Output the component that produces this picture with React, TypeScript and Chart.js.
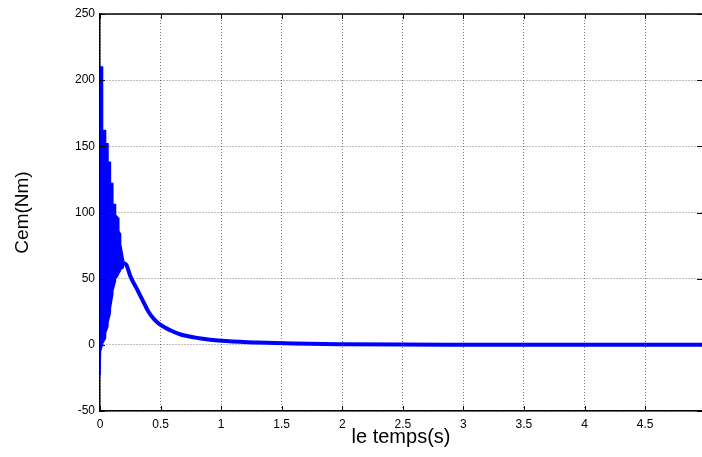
import React, { useEffect, useRef } from "react";
import { Chart, registerables } from "chart.js";

Chart.register(...registerables);

// Oscillating start-up region: envelope
const envT = [0, 0.004, 0.02, 0.021, 0.045, 0.046, 0.065, 0.066, 0.085, 0.086, 0.105, 0.106, 0.127, 0.128, 0.15, 0.155, 0.168, 0.17, 0.19, 0.2];
const envUpper = [210, 210, 210, 162, 162, 152, 152, 138, 138, 122, 122, 106, 106, 98, 96, 86, 84, 76, 66, 62];
const envLower = [-23, -5, 0, 1, 5, 9, 14, 17, 24, 28, 38, 41, 48, 50, 53, 54, 56, 57, 58, 62];

// Smooth decaying part
const mainT = [0.2, 0.22, 0.25, 0.3, 0.35, 0.4, 0.45, 0.5, 0.58, 0.66, 0.82, 1.0, 1.3, 1.6, 2.0, 2.5, 3.0, 4.0, 4.97];
const mainV = [62, 60, 52, 43, 34, 25, 19, 15, 11, 8, 5, 3, 1.8, 1.0, 0.5, 0.2, 0.1, 0, 0];

const xTicks = [0, 0.5, 1, 1.5, 2, 2.5, 3, 3.5, 4, 4.5];
const yTicks = [-50, 0, 50, 100, 150, 200, 250];

const xTitle = "le temps(s)";
const yTitle = "Cem(Nm)";

const BLUE = "#0000ff";
const FONT = "'Liberation Sans', Arial, sans-serif";

const framePlugin = {
  id: "frame",
  afterDraw(chart: any) {
    const { ctx, chartArea: a, scales } = chart;
    const xs = scales.x;
    const ys = scales.y;
    ctx.save();
    ctx.strokeStyle = "#000";
    ctx.lineWidth = 1.5;
    ctx.beginPath();
    ctx.moveTo(a.left, a.top);
    ctx.lineTo(a.right, a.top);
    ctx.stroke();
    ctx.lineWidth = 1;
    const tl = 5;
    ctx.beginPath();
    for (const v of xTicks) {
      const px = Math.round(xs.getPixelForValue(v)) + 0.5;
      ctx.moveTo(px, a.bottom);
      ctx.lineTo(px, a.bottom - tl);
      ctx.moveTo(px, a.top);
      ctx.lineTo(px, a.top + tl);
    }
    for (const v of yTicks) {
      const py = Math.round(ys.getPixelForValue(v)) + 0.5;
      ctx.moveTo(a.left, py);
      ctx.lineTo(a.left + tl, py);
      ctx.moveTo(a.right, py);
      ctx.lineTo(a.right - tl, py);
    }
    ctx.stroke();
    ctx.fillStyle = "#000";
    ctx.textAlign = "center";
    ctx.textBaseline = "middle";
    ctx.font = `20px ${FONT}`;
    ctx.fillText(xTitle, (a.left + a.right) / 2, 437);
    ctx.translate(23, (a.top + a.bottom) / 2);
    ctx.rotate(-Math.PI / 2);
    ctx.font = `19px ${FONT}`;
    ctx.fillText(yTitle, 0, 0);
    ctx.restore();
  },
};

export default function App() {
  const ref = useRef<HTMLCanvasElement | null>(null);
  useEffect(() => {
    if (!ref.current) return;
    const band = [
      ...envT.map((t, i) => ({ x: t, y: envUpper[i] })),
      ...envT.map((t, i) => ({ x: t, y: envLower[i] })).reverse(),
    ];
    const main = mainT.map((t, i) => ({ x: t, y: mainV[i] }));
    const chart = new Chart(ref.current, {
      type: "line",
      data: {
        datasets: [
          { data: band, borderColor: BLUE, borderWidth: 1.5, pointRadius: 0, fill: "shape", backgroundColor: BLUE, tension: 0 },
          { data: main, borderColor: BLUE, borderWidth: 4, pointRadius: 0, fill: false, cubicInterpolationMode: "monotone" },
        ],
      },
      options: {
        responsive: false,
        animation: false,
        events: [],
        layout: { padding: { top: 14, right: 0, left: 0, bottom: 0 } },
        plugins: { legend: { display: false }, tooltip: { enabled: false } },
        scales: {
          x: {
            type: "linear",
            min: 0,
            max: 4.97,
            afterBuildTicks: (s: any) => { s.ticks = xTicks.map((v) => ({ value: v })); },
            afterFit: (s: any) => { s.height = 46; },
            ticks: { font: { family: FONT, size: 12 }, color: "#000", padding: 6, maxRotation: 0, autoSkip: false, callback: (v: any) => String(v) },
            grid: { color: "rgba(0,0,0,0.5)", lineWidth: 1, drawTicks: false },
            border: { display: true, color: "#000", width: 1.5, dash: [1, 2] },
          },
          y: {
            type: "linear",
            min: -50,
            max: 250,
            afterBuildTicks: (s: any) => { s.ticks = yTicks.map((v) => ({ value: v })); },
            afterFit: (s: any) => { s.width = 100; },
            ticks: { font: { family: FONT, size: 12 }, color: "#000", padding: 5, callback: (v: any) => String(v) },
            grid: { color: "rgba(0,0,0,0.5)", lineWidth: 1, drawTicks: false },
            border: { display: true, color: "#000", width: 1.5, dash: [1, 2] },
          },
        },
      },
      plugins: [framePlugin],
    } as any);
    return () => chart.destroy();
  }, []);
  return (
    <div style={{ position: "absolute", left: 0, top: 0, width: 702, height: 457, background: "#fff" }}>
      <canvas ref={ref} width={702} height={457} style={{ display: "block" }} />
    </div>
  );
}
